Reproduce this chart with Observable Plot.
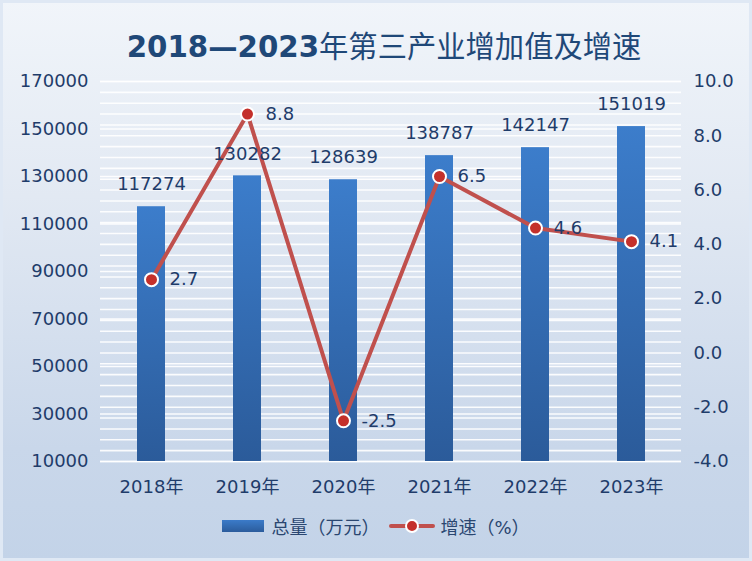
<!DOCTYPE html>
<html><head><meta charset="utf-8">
<script src="https://cdn.jsdelivr.net/npm/d3@7"></script>
<script src="https://cdn.jsdelivr.net/npm/@observablehq/plot@0.6"></script>
<style>
html,body{margin:0;padding:0;background:#fff;}
#chart{position:relative;width:752px;height:561px;box-sizing:border-box;
  background:linear-gradient(to bottom,#f1f5fa 0%,#e2e9f3 35%,#c9d7ea 80%,#c3d3e8 100%);
  box-shadow:inset 0 0 0 3px #dfe8f4;
  font-family:'DejaVu Sans','Noto Sans CJK SC',sans-serif;color:#1f3c6a;overflow:hidden;}
#title{position:absolute;left:16px;right:0;top:33px;line-height:29px;text-align:center;font-size:29.3px;color:#1f4878;white-space:nowrap;}
#title b{font-weight:bold;}
#title span{font-weight:normal;}
#plot{position:absolute;left:0;top:60px;}
#legend{position:absolute;left:0;right:0;top:516px;height:20px;display:flex;justify-content:center;align-items:center;font-size:18px;color:#2a4670;}
.sw-bar{width:42px;height:12px;background:linear-gradient(to bottom,#3b7bc9,#2b5c9c);margin-right:7px;}
.sw-line{position:relative;width:46px;height:14px;margin:0 5px 0 10px;}
.sw-line i{position:absolute;left:0;right:0;top:5px;height:4px;background:#c0504d;border-radius:2px;}
.sw-line b{position:absolute;left:16px;top:0;width:10px;height:10px;border-radius:50%;background:#c4302b;border:2px solid #fff;}
</style></head>
<body>
<div id="chart">
  <div id="title"><b>2018—2023</b><span>年第三产业增加值及增速</span></div>
  <div id="plot"></div>
  <div id="legend">
    <div class="sw-bar"></div><div>总量（万元）</div>
    <div class="sw-line"><i></i><b></b></div><div>增速（%）</div>
  </div>
</div>
<script>
const years = ["2018年","2019年","2020年","2021年","2022年","2023年"];
const totals = [117274,130282,128639,138787,142147,151019];
const growth = [2.7,8.8,-2.5,6.5,4.6,4.1];
const leftTicks = [10000,30000,50000,70000,90000,110000,130000,150000,170000];
const rightTicks = [-4,-2,0,2,4,6,8,10];
const rightMinor = d3.range(0,36).map(i => -4 + i*0.4);

const LMIN = 10000, LMAX = 170000, RMIN = -4, RMAX = 10;
const toLeft = v => LMIN + (v - RMIN) * (LMAX - LMIN) / (RMAX - RMIN);
const toRight = d => RMIN + (d - LMIN) * (RMAX - RMIN) / (LMAX - LMIN);

const data = years.map((y, i) => ({year: y, total: totals[i], growth: growth[i], g: toLeft(growth[i])}));

const defs = () => {
  const d = d3.create("svg:defs");
  const lg = d.append("linearGradient").attr("id", "barGrad")
    .attr("x1", 0).attr("y1", 0).attr("x2", 0).attr("y2", 1);
  lg.append("stop").attr("offset", "0%").attr("stop-color", "#3c7dcb");
  lg.append("stop").attr("offset", "100%").attr("stop-color", "#2b5b9a");
  return d.node();
};

const chart = Plot.plot({
  width: 752, height: 430,
  marginTop: 21, marginBottom: 29, marginLeft: 100, marginRight: 71,
  style: {fontFamily: "'DejaVu Sans','Noto Sans CJK SC',sans-serif", fontSize: "18px", color: "#1f3c6a", background: "transparent", overflow: "visible"},
  x: {domain: years, paddingInner: 0.71, paddingOuter: 0.355, label: null},
  y: {domain: [LMIN, LMAX], label: null},
  marks: [
    defs,
    Plot.ruleY(rightMinor.map(toLeft), {stroke: "white", strokeWidth: 1.6, strokeOpacity: 0.9}),
    Plot.ruleY(leftTicks, {stroke: "white", strokeWidth: 1.6, strokeOpacity: 0.9}),
    Plot.barY(data, {x: "year", y1: LMIN, y2: "total", fill: "url(#barGrad)"}),
    Plot.line(data, {x: "year", y: "g", stroke: "#c0504d", strokeWidth: 4}),
    Plot.dot(data, {x: "year", y: "g", r: 6.5, fill: "#c4302b", stroke: "white", strokeWidth: 2}),
    Plot.text(data, {x: "year", y: "total", text: d => String(d.total), dy: -22, fontSize: 18, fill: "#1f3c6a"}),
    Plot.text(data, {x: "year", y: "g", text: d => d.growth.toFixed(1), dx: 18, textAnchor: "start", fontSize: 18, fill: "#1f3c6a"}),
    Plot.axisY(leftTicks, {anchor: "left", tickSize: 0, tickPadding: 12, fontSize: 18, label: null, tickFormat: d => String(d)}),
    Plot.axisY(rightTicks.map(toLeft), {anchor: "right", tickSize: 0, tickPadding: 12, fontSize: 18, label: null, tickFormat: d => toRight(d).toFixed(1)}),
    Plot.axisX({tickSize: 0, tickPadding: 19, fontSize: 18, label: null})
  ]
});
document.getElementById("plot").appendChild(chart);
</script>
</body></html>
